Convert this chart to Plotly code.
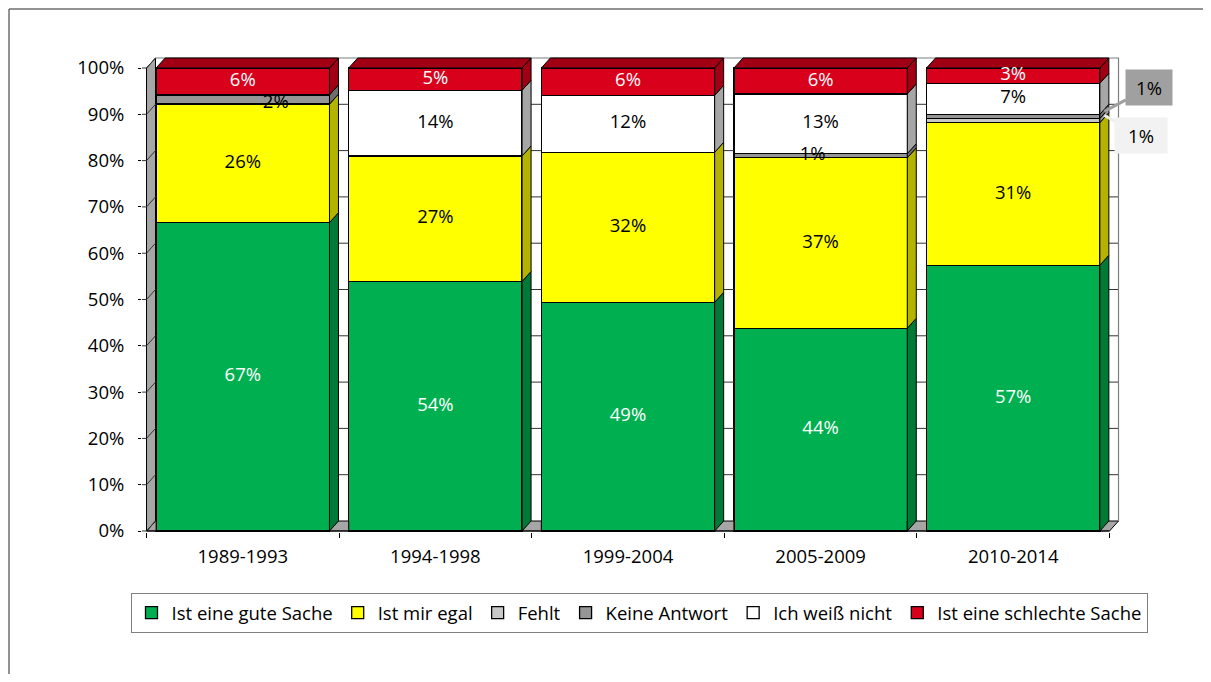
import plotly.graph_objects as go

# ---------------- data ----------------
categories = ["1989-1993", "1994-1998", "1999-2004", "2005-2009", "2010-2014"]
series_names = ["Ist eine gute Sache", "Ist mir egal", "Fehlt", "Keine Antwort",
                "Ich weiß nicht", "Ist eine schlechte Sache"]
gute_sache = [66.6, 53.9, 49.4, 43.8, 57.4]
mir_egal = [25.6, 27.1, 32.4, 36.8, 30.8]
fehlt = [0.0, 0.0, 0.0, 0.0, 0.9]
keine_antwort = [2.0, 0.0, 0.0, 0.9, 0.9]
weiss_nicht = [0.0, 14.2, 12.3, 12.9, 6.7]
schlechte_sache = [5.8, 4.8, 5.9, 5.6, 3.3]
y_tick_values = [0, 10, 20, 30, 40, 50, 60, 70, 80, 90, 100]
y_tick_labels = ["0%", "10%", "20%", "30%", "40%", "50%", "60%", "70%", "80%", "90%", "100%"]

series = [gute_sache, mir_egal, fehlt, keine_antwort, weiss_nicht, schlechte_sache]

# ---------------- style ----------------
front_colors = ["#00B050", "#FFFF00", "#C8C8C8", "#969696", "#FFFFFF", "#D9001B"]
side_colors = ["#007A36", "#B3B300", "#9A9A9A", "#6E6E6E", "#A6A6A6", "#A10014"]
text_colors = ["white", "black", "black", "black", "black", "white"]
FONT = "Open Sans"
FS = 18.5

OFF = 8                      # page body margin of the browser
W, H = 1211 - 2 * OFF, 682 - 2 * OFF
def X(p): return p - OFF     # reference pixel -> figure pixel
def Y(p): return p - OFF

sx = 192.6        # px per category
sy = 4.63         # px per percent
axis_px = X(146.5)   # pixel of front-left edge
base_px = Y(531.0)   # pixel of 0 %
m_l = X(142)
m_t = Y(57)
m_r = 0
m_b = H - Y(532)
xmin = -0.5 - (axis_px - m_l) / sx
xmax = xmin + (W - m_l - m_r) / sx
ymax = (base_px - m_t) / sy
ymin = ymax - (H - m_t - m_b) / sy
dxu = 9.0 / sx    # depth in x units
dyu = 10.0 / sy   # depth in y units
bw = 0.9
hb = bw / 2
n = len(categories)
xs = list(range(n))

fig = go.Figure()

# front faces (bars)
for name, vals, col in zip(series_names, series, front_colors):
    fig.add_bar(x=xs, y=[v if v > 0 else None for v in vals], name=name, width=bw,
                marker=dict(color=col, line=dict(color="black", width=1.3)),
                hoverinfo="skip")

def poly_trace(polys, fill, line_color="black", lw=1.0):
    px, py = [], []
    for p in polys:
        for (a, b) in p:
            px.append(a); py.append(b)
        px.append(p[0][0]); py.append(p[0][1])
        px.append(None); py.append(None)
    return go.Scatter(x=px, y=py, mode="lines", fill="toself", fillcolor=fill,
                      line=dict(color=line_color, width=lw), showlegend=False,
                      hoverinfo="skip")

# floor pieces visible in gaps
floor = [[(-0.5, 0), (-hb, 0), (-hb, dyu), (-0.5 + dxu, dyu)]]
for i in range(n - 1):
    floor.append([(i + hb, 0), (i + 1 - hb, 0), (i + 1 - hb, dyu), (i + hb, dyu)])
floor.append([((n - 1) + hb, 0), (n - 0.5, 0), (n - 0.5 + dxu, dyu), ((n - 1) + hb, dyu)])
fig.add_trace(poly_trace(floor, "#A6A6A6"))

# left wall
fig.add_trace(poly_trace([[(-0.5, 0), (-0.5, 100), (-0.5 + dxu, 100 + dyu), (-0.5 + dxu, dyu)]],
                         "#A6A6A6"))

# gridlines (only visible in gaps) + tick connectors across the wall
gx, gy = [], []
for v in y_tick_values:
    gx += [xmin, -0.5, -0.5 + dxu, -hb, None]
    gy += [v, v, v + dyu, v + dyu, None]
    if 0 < v < 100:
        for i in range(n - 1):
            gx += [i + hb, i + 1 - hb, None]
            gy += [v + dyu, v + dyu, None]
        gx += [(n - 1) + hb, n - 0.5 + dxu, None]
        gy += [v + dyu, v + dyu, None]
fig.add_trace(go.Scatter(x=gx, y=gy, mode="lines", line=dict(color="#333333", width=1),
                         showlegend=False, hoverinfo="skip"))

# back wall outline (top and right edges)
fig.add_trace(go.Scatter(x=[-0.5 + dxu, n - 0.5 + dxu, n - 0.5 + dxu],
                         y=[100 + dyu, 100 + dyu, dyu], mode="lines",
                         line=dict(color="#7F7F7F", width=1.2), showlegend=False,
                         hoverinfo="skip"))

# side faces
cum = [0.0] * n
bounds = []
for s, vals in enumerate(series):
    polys = []
    row = []
    for i in range(n):
        y0 = cum[i]; y1 = cum[i] + vals[i]
        row.append((y0, y1))
        if vals[i] > 0:
            polys.append([(i + hb, y0), (i + hb + dxu, y0 + dyu),
                          (i + hb + dxu, y1 + dyu), (i + hb, y1)])
        cum[i] = y1
    bounds.append(row)
    if polys:
        fig.add_trace(poly_trace(polys, side_colors[s]))

# top faces (colour of the topmost segment)
top_polys = []
for i in range(n):
    t = cum[i]
    top_polys.append([(i - hb, t), (i - hb + dxu, t + dyu), (i + hb + dxu, t + dyu), (i + hb, t)])
top_series = max(s for s in range(len(series)) if all(series[s][i] > 0 for i in range(n)))
fig.add_trace(poly_trace(top_polys, side_colors[top_series]))

# front base line
fig.add_trace(go.Scatter(x=[-0.5, n - 0.5], y=[0, 0], mode="lines",
                         line=dict(color="black", width=1.2), showlegend=False,
                         hoverinfo="skip"))

# in-bar labels
label_shift_px = {(3, 0): (33, 4), (3, 3): (-8, 0)}
callout = {(2, 4), (3, 4)}
for s, vals in enumerate(series):
    lx, ly, lt = [], [], []
    for i in range(n):
        if vals[i] <= 0 or (s, i) in callout:
            continue
        y0, y1 = bounds[s][i]
        dxp, dyp = label_shift_px.get((s, i), (0, 0))
        lx.append(i + dxp / sx)
        ly.append((y0 + y1) / 2 - dyp / sy)
        lt.append(f"{vals[i]:.0f}%")
    if lx:
        fig.add_trace(go.Scatter(x=lx, y=ly, text=lt, mode="text",
                                 textfont=dict(family=FONT, size=FS, color=text_colors[s]),
                                 showlegend=False, hoverinfo="skip", cliponaxis=False))

# callouts for the tiny segments of the last bar
callout_style = {3: dict(bg="#A0A0A0", arrow="#A0A0A0", ax=45, ay=-24, w=44),
                 2: dict(bg="#F2F2F2", arrow="#EDEDED", ax=37, ay=20, w=50)}
for s, st in callout_style.items():
    i = n - 1
    y0, y1 = bounds[s][i]
    fig.add_annotation(x=i + hb + dxu / 2, y=(y0 + y1) / 2 + dyu / 2, xref="x", yref="y",
                       text=f"{series[s][i]:.0f}%", showarrow=True, arrowhead=0,
                       arrowwidth=3, arrowcolor=st["arrow"], ax=st["ax"], ay=st["ay"],
                       axref="pixel", ayref="pixel", standoff=0, bgcolor=st["bg"],
                       width=st["w"], height=33, font=dict(family=FONT, size=FS, color="black"))

# outer frame (left and top edges)
pw = W - m_l - m_r
ph = H - m_t - m_b
def pxx(p): return (X(p) - m_l) / pw
def pyy(p): return (H - m_b - Y(p)) / ph
fig.add_shape(type="line", xref="paper", yref="paper", x0=pxx(9), x1=pxx(9), y0=pyy(9), y1=pyy(700),
              line=dict(color="#6E6E6E", width=1.5))
fig.add_shape(type="line", xref="paper", yref="paper", x0=pxx(9), x1=pxx(1230), y0=pyy(9), y1=pyy(9),
              line=dict(color="#6E6E6E", width=1.5))

fig.update_layout(
    width=W, height=H, barmode="stack", bargap=0.1,
    margin=dict(l=m_l, r=m_r, t=m_t, b=m_b, autoexpand=False),
    plot_bgcolor="white", paper_bgcolor="white",
    font=dict(family=FONT, size=FS, color="black"),
    showlegend=True,
    legend=dict(orientation="h", x=pxx(639), xanchor="center", y=pyy(593), yanchor="top",
                bordercolor="#808080", borderwidth=1, bgcolor="white",
                font=dict(family=FONT, size=18.5, color="black"), traceorder="normal",
                itemwidth=30),
    hovermode=False,
)
fig.update_xaxes(range=[xmin, xmax], tickvals=xs, ticktext=categories, ticks="",
                 showgrid=False, zeroline=False, showline=False, ticklabelstandoff=11,
                 minor=dict(tickvals=[i - 0.5 for i in range(n + 1)], ticks="outside",
                            ticklen=5, tickcolor="black", showgrid=False))
fig.update_yaxes(range=[ymin, ymax], tickvals=y_tick_values, ticktext=y_tick_labels,
                 ticks="outside", ticklen=3, tickcolor="black", showgrid=False,
                 zeroline=False, showline=False, ticklabelstandoff=10)

fig.write_html("out.html")
